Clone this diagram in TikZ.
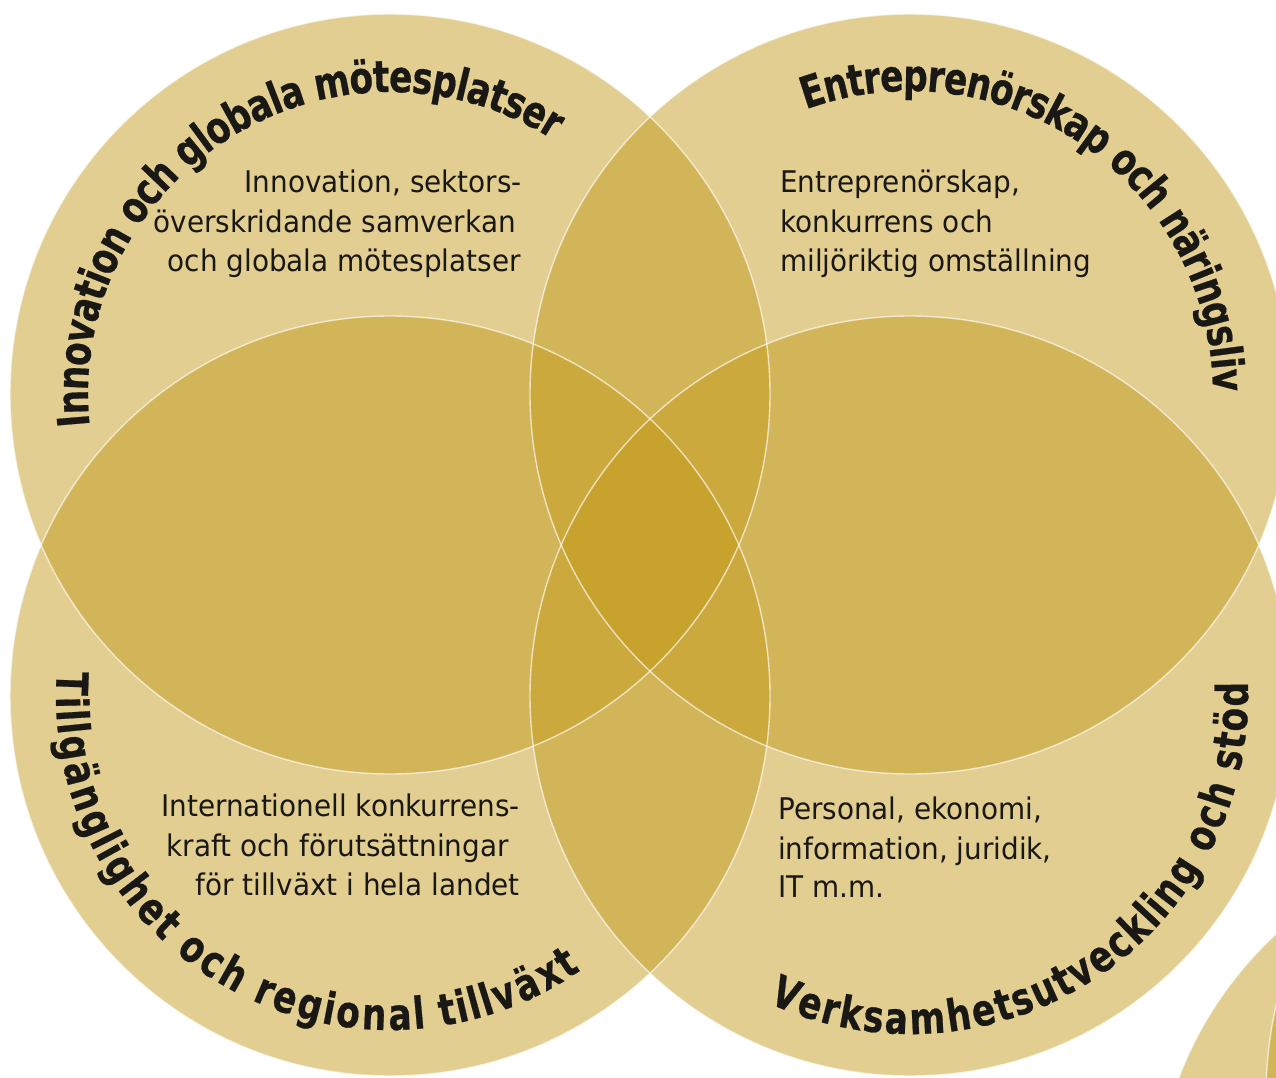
\documentclass[tikz,border=0pt]{standalone}
\usepackage{fontspec}
\usepackage{graphicx}
\newfontfamily\labfont[BoldFeatures={FakeBold=0.6}]{DejaVu Sans}
\newfontfamily\bodyfont[FakeStretch=0.935]{DejaVu Sans}
\definecolor{gold}{RGB}{197,158,34}
\definecolor{ink}{RGB}{26,24,20}
\newcommand{\labfmt}{\labfont\bfseries\fontsize{44}{44}\selectfont\color{ink}}
\newsavebox\mychbox
\newlength\arcsumlen
\def\spmark{*}
% measure the characters of a label (outside the picture)
\newcommand{\measurearc}[2]{%
  \global\arcsumlen=0pt
  \foreach \ch [count=\k] in {#2}{%
    \ifx\ch\spmark\sbox\mychbox{\labfmt\ }\else\sbox\mychbox{\labfmt\ch}\fi
    \expandafter\xdef\csname aw@#1@\k\endcsname{\the\wd\mychbox}%
    \global\advance\arcsumlen by \wd\mychbox
  }%
  \expandafter\xdef\csname aw@#1@tot\endcsname{\the\arcsumlen}%
}
% #1 name, #2 centre, #3 radius, #4 start angle, #5 end angle, #6 glyph xscale, #7 characters
\newcommand{\arctext}[7]{%
  \pgfmathsetmacro\degperpt{((#5)-(#4))/\csname aw@#1@tot\endcsname}%
  \xdef\curang{#4}%
  \foreach \ch [count=\k] in {#7}{%
    \edef\chw{\csname aw@#1@\k\endcsname}%
    \pgfmathsetmacro\midang{\curang+0.5*\degperpt*\chw}%
    \pgfmathsetmacro\nextang{\curang+\degperpt*\chw}%
    \pgfmathsetmacro\arcrot{\midang+(((#5)>(#4))?90:-90)}%
    \ifx\ch\spmark\else
      \node[inner sep=0pt, anchor=base, rotate=\arcrot] (#1\k) at ([shift={(\midang:#3)}]#2) {\scalebox{#6}[1]{\labfmt\ch}};
    \fi
    \xdef\curang{\nextang}%
  }%
}
\begin{document}
\measurearc{tlab}{I,n,n,o,v,a,t,i,o,n,*,o,c,h,*,g,l,o,b,a,l,a,*,m,ö,t,e,s,p,l,a,t,s,e,r}%
\measurearc{trlab}{E,n,t,r,e,p,r,e,n,ö,r,s,k,a,p,*,o,c,h,*,n,ä,r,i,n,g,s,l,i,v}%
\measurearc{bllab}{T,i,l,l,g,ä,n,g,l,i,g,h,e,t,*,o,c,h,*,r,e,g,i,o,n,a,l,*,t,i,l,l,v,ä,x,t}%
\measurearc{brlab}{V,e,r,k,s,a,m,h,e,t,s,u,t,v,e,c,k,l,i,n,g,*,o,c,h,*,s,t,ö,d}%
\begin{tikzpicture}[x=1pt,y=1pt,
  venn/.style={fill=gold, fill opacity=0.5},
  rim/.style={draw=white, draw opacity=0.65, line width=1.4pt},
  body/.style={font=\bodyfont\fontsize{29.8}{39.5}\selectfont, text=ink, inner sep=0pt}
]
\useasboundingbox (0,0) rectangle (1276,1077);
\fill[white] (0,0) rectangle (1276,1077);
\coordinate (tl) at (390,683);
\coordinate (tr) at (910,683);
\coordinate (bl) at (390,381);
\coordinate (br) at (910,381);
\coordinate (cornerA) at (1534,-136);
\coordinate (cornerB) at (1666,-18);
\begin{scope}
  \clip (0,0) rectangle (1276,1077);
  \fill[venn] (tl) circle[radius=380];
  \fill[venn] (tr) circle[radius=380];
  \fill[venn] (bl) circle[radius=380];
  \fill[venn] (br) circle[radius=380];
  \fill[venn] (cornerA) circle[radius=380];
  \fill[venn] (cornerB) circle[radius=400];
  \draw[rim] (tl) circle[radius=380];
  \draw[rim] (tr) circle[radius=380];
  \draw[rim] (bl) circle[radius=380];
  \draw[rim] (br) circle[radius=380];
  \draw[rim] (cornerA) circle[radius=380];
  \draw[rim] (cornerB) circle[radius=400];
\end{scope}
% curved labels
\arctext{tlab}{tl}{302}{186}{57.5}{0.78}{I,n,n,o,v,a,t,i,o,n,*,o,c,h,*,g,l,o,b,a,l,a,*,m,ö,t,e,s,p,l,a,t,s,e,r}
\arctext{trlab}{tr}{303}{110}{0.5}{0.78}{E,n,t,r,e,p,r,e,n,ö,r,s,k,a,p,*,o,c,h,*,n,ä,r,i,n,g,s,l,i,v}
\arctext{bllab}{bl}{334}{175.5}{305}{0.78}{T,i,l,l,g,ä,n,g,l,i,g,h,e,t,*,o,c,h,*,r,e,g,i,o,n,a,l,*,t,i,l,l,v,ä,x,t}
\arctext{brlab}{br}{338}{245}{362.6}{0.78}{V,e,r,k,s,a,m,h,e,t,s,u,t,v,e,c,k,l,i,n,g,*,o,c,h,*,s,t,ö,d}
% body texts
\node[body, anchor=base east] (tl1) at (522,884) {Innovation, sektors-};
\node[body, anchor=base east] (tl2) at (516,844) {överskridande samverkan};
\node[body, anchor=base east] (tl3) at (521,805) {och globala mötesplatser};
\node[body, anchor=base west] (tr1) at (780,884) {Entreprenörskap,};
\node[body, anchor=base west] (tr2) at (780,844) {konkurrens och};
\node[body, anchor=base west] (tr3) at (780,805) {miljöriktig omställning};
\node[body, anchor=base east] (bl1) at (520,261) {Internationell konkurrens-};
\node[body, anchor=base east] (bl2) at (509,221) {kraft och förutsättningar};
\node[body, anchor=base east] (bl3) at (520,182) {för tillväxt i hela landet};
\node[body, anchor=base west] (br1) at (778,258) {Personal, ekonomi,};
\node[body, anchor=base west] (br2) at (778,218) {information, juridik,};
\node[body, anchor=base west] (br3) at (778,180) {IT m.m.};
\end{tikzpicture}
\end{document}
